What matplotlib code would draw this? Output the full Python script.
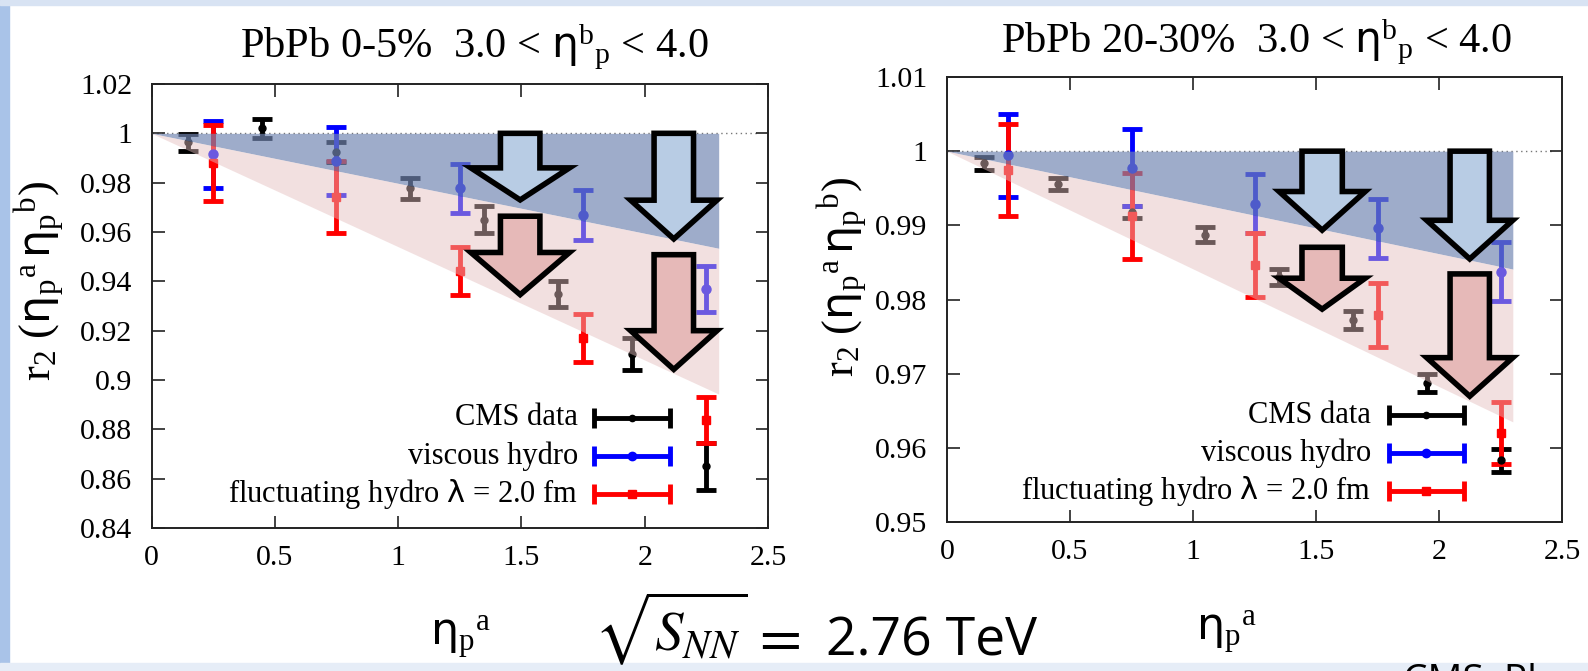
import matplotlib
matplotlib.use("Agg")
import matplotlib.pyplot as plt
from matplotlib.patches import Polygon, Rectangle

plt.rcParams['font.family'] = ['Liberation Serif', 'DejaVu Sans']
plt.rcParams['mathtext.fontset'] = 'custom'
plt.rcParams['mathtext.rm'] = 'Liberation Serif'
plt.rcParams['mathtext.it'] = 'Liberation Serif:italic'
plt.rcParams['mathtext.sf'] = 'DejaVu Sans'

# ---------------- data ----------------
cms_x = [0.15, 0.45, 0.75, 1.05, 1.35, 1.65, 1.95, 2.25]
hydro_x = [0.25, 0.75, 1.25, 1.75, 2.25]

# PbPb 0-5%
cms_0_5 = [0.9963, 1.0020, 0.9924, 0.9777, 0.9650, 0.9350, 0.9105, 0.8650]
cms_0_5_err = [0.0035, 0.0037, 0.0039, 0.0043, 0.0056, 0.0053, 0.0065, 0.0095]
visc_0_5 = [0.9915, 0.9889, 0.9777, 0.9669, 0.9370]
visc_0_5_err = [0.0137, 0.0137, 0.0100, 0.0100, 0.0094]
fluct_0_5 = [0.9879, 0.9742, 0.9441, 0.9170, 0.8838]
fluct_0_5_err = [0.0154, 0.0145, 0.0098, 0.0097, 0.0092]

# PbPb 20-30%
cms_20_30 = [0.99838, 0.99552, 0.99175, 0.98875, 0.98307, 0.97720, 0.96878, 0.95830]
cms_20_30_err = [0.00087, 0.0008, 0.0008, 0.0010, 0.0011, 0.0012, 0.0012, 0.0016]
visc_20_30 = [0.99943, 0.99774, 0.99292, 0.98958, 0.98374]
visc_20_30_err = [0.0056, 0.0052, 0.0040, 0.0040, 0.0040]
fluct_20_30 = [0.99748, 0.99123, 0.98470, 0.97795, 0.96204]
fluct_20_30_err = [0.0062, 0.0058, 0.0043, 0.0043, 0.0042]

# shaded bands: straight lines from (0, 1) to (band_x_end, value)
band_x_end = 2.3
band_blue_end = [0.9534, 0.9841]
band_pink_end = [0.8943, 0.9635]

titles = [r'PbPb 0-5%  3.0 < $\mathsf{η}^{\mathrm{b}}{}_{\mathrm{p}}$ < 4.0',
          r'PbPb 20-30%  3.0 < $\mathsf{η}^{\mathrm{b}}{}_{\mathrm{p}}$ < 4.0']
ylims = [(0.84, 1.02), (0.95, 1.01)]
yticks = [[0.84, 0.86, 0.88, 0.90, 0.92, 0.94, 0.96, 0.98, 1.00, 1.02],
          [0.95, 0.96, 0.97, 0.98, 0.99, 1.00, 1.01]]
yticklabels = [['0.84', '0.86', '0.88', '0.9', '0.92', '0.94', '0.96', '0.98', '1', '1.02'],
               ['0.95', '0.96', '0.97', '0.98', '0.99', '1', '1.01']]
xticks = [0, 0.5, 1, 1.5, 2, 2.5]
xticklabels = ['0', '0.5', '1', '1.5', '2', '2.5']
legend_labels = ['CMS data', 'viscous hydro', r'fluctuating hydro $\mathsf{λ}$ = 2.0 fm']

# slide arrows (annotations): x centre, shaft half-width, head half-width, y top, y head base, y tip
arrows = [
    [  # left panel
        ('blue', 1.495, 0.080, 0.200, 1.0000, 0.9860, 0.9730),
        ('pink', 1.495, 0.080, 0.200, 0.9664, 0.9517, 0.9346),
        ('blue', 2.118, 0.080, 0.175, 1.0000, 0.9729, 0.9572),
        ('pink', 2.118, 0.080, 0.175, 0.9508, 0.9200, 0.9043),
    ],
    [  # right panel
        ('blue', 1.525, 0.082, 0.175, 1.0000, 0.99456, 0.98935),
        ('pink', 1.525, 0.082, 0.175, 0.98704, 0.98287, 0.97870),
        ('blue', 2.125, 0.080, 0.175, 1.0000, 0.99068, 0.98547),
        ('pink', 2.125, 0.080, 0.175, 0.98345, 0.97216, 0.96696),
    ],
]

W, H = 1588, 671
fig = plt.figure(figsize=(W / 100, H / 100), dpi=100)
fig.patch.set_facecolor('white')

# slide decoration strips
fig.add_artist(Rectangle((0, 0), 9 / W, 1, transform=fig.transFigure,
                         color='#a9c3e8', zorder=0))
fig.add_artist(Rectangle((0, 1 - 5 / H), 1, 5 / H, transform=fig.transFigure,
                         color='#d8e3f3', zorder=0))
fig.add_artist(Rectangle((0, 0), 1, 8 / H, transform=fig.transFigure,
                         color='#e6edf7', zorder=0))

ax_boxes = [(151.5, 84, 768, 528), (947, 77, 1562, 522)]

def fbox(b):
    x0, y0, x1, y1 = b
    return [x0 / W, 1 - y1 / H, (x1 - x0) / W, (y1 - y0) / H]

panels = [
    (cms_0_5, cms_0_5_err, visc_0_5, visc_0_5_err, fluct_0_5, fluct_0_5_err),
    (cms_20_30, cms_20_30_err, visc_20_30, visc_20_30_err, fluct_20_30, fluct_20_30_err),
]

blue_shade = (114 / 255, 134 / 255, 178 / 255)
pink_shade = (228 / 255, 191 / 255, 191 / 255)
arrow_fc = {'blue': '#b8cce4', 'pink': '#e6b9b8'}

legend_pos = [(0.692, 0.718, 0.841, [0.248, 0.162, 0.076]),
              (0.690, 0.718, 0.841, [0.240, 0.155, 0.070])]

for i, (cms, cms_e, visc, visc_e, fl, fl_e) in enumerate(panels):
    ax = fig.add_axes(fbox(ax_boxes[i]))
    ax.set_xlim(0, 2.5)
    ax.set_ylim(*ylims[i])
    ax.set_xticks(xticks)
    ax.set_xticklabels(xticklabels)
    ax.set_yticks(yticks[i])
    ax.set_yticklabels(yticklabels[i])
    ax.tick_params(direction='in', length=9, width=1.2, top=True, right=True,
                   labelsize=21.5, colors='#222222', labelcolor='black')
    ax.tick_params(axis='x', pad=12)
    ax.tick_params(axis='y', pad=14)
    for s in ax.spines.values():
        s.set_linewidth(1.4)
        s.set_color('#222222')

    ax.axhline(1.0, xmin=0, xmax=0.985, color='#777777', ls=(0, (1, 2.5)), lw=1.0, zorder=1)

    ekw = dict(elinewidth=3.5, capsize=7.5, capthick=3.5, zorder=2)
    ax.errorbar(cms_x, cms, yerr=cms_e, fmt='o', color='black', ms=5, **ekw)
    ax.errorbar(hydro_x, visc, yerr=visc_e, fmt='o', color='#0000ff', ms=6.5, **ekw)
    ax.errorbar(hydro_x, fl, yerr=fl_e, fmt='s', color='#ff0000', ms=6, **ekw)

    ax.fill_between([0, band_x_end], [1, 1], [1, band_blue_end[i]],
                    color=blue_shade, alpha=0.686, lw=0, zorder=3)
    ax.fill_between([0, band_x_end], [1, band_blue_end[i]], [1, band_pink_end[i]],
                    color=pink_shade, alpha=0.47, lw=0, zorder=3)

    for (kind, xc, sw, hw, yt, yh, ytip) in arrows[i]:
        pts = [(xc - sw, yt), (xc + sw, yt), (xc + sw, yh), (xc + hw, yh),
               (xc, ytip), (xc - hw, yh), (xc - sw, yh)]
        ax.add_patch(Polygon(pts, closed=True, facecolor=arrow_fc[kind],
                             edgecolor='black', lw=4, joinstyle='miter',
                             zorder=6, clip_on=False))

    # legend (gnuplot style)
    xt, xs0, xs1, rows = legend_pos[i]
    colors = ['black', '#0000ff', '#ff0000']
    markers = ['o', 'o', 's']
    msz = [4.5, 6, 6]
    for lab, yr, c, m, ms in zip(legend_labels, rows, colors, markers, msz):
        ax.text(xt, yr, lab, transform=ax.transAxes, ha='right', va='center',
                fontsize=22, zorder=7)
        ax.plot([xs0, xs1], [yr, yr], transform=ax.transAxes, color=c, lw=3.5,
                zorder=7, solid_capstyle='butt')
        dy = 0.022
        for xx in (xs0, xs1):
            ax.plot([xx, xx], [yr - dy, yr + dy], transform=ax.transAxes,
                    color=c, lw=3.5, zorder=7, solid_capstyle='butt')
        ax.plot([(xs0 + xs1) / 2], [yr], marker=m, ms=ms, color=c,
                transform=ax.transAxes, zorder=7)

titles_pos = [(474, 57), (1256, 52)]
for t, (tx, ty) in zip(titles, titles_pos):
    fig.text(tx / W, 1 - ty / H, t, ha='center', va='baseline', fontsize=30.5)

ylabel = r'r$_2$ ($\mathsf{η}_{\mathrm{p}}{}^{\mathrm{a}}\,\mathsf{η}_{\mathrm{p}}{}^{\mathrm{b}}$)'
for (lx, ly) in [(40, 281), (843, 277)]:
    fig.text(lx / W, 1 - ly / H, ylabel, rotation=90, ha='center', va='center', fontsize=32)

xlabel = r'$\mathsf{η}_{\mathrm{p}}{}^{\mathrm{a}}$'
for (lx, ly) in [(460, 645), (1226, 640)]:
    fig.text(lx / W, 1 - ly / H, xlabel, ha='center', va='baseline', fontsize=32)

# energy
fig.text(594 / W, 1 - 650 / H, r'$\sqrt{S_{NN}}$', math_fontfamily='stix',
         ha='left', va='baseline', fontsize=41)
fig.text(751 / W, 1 - 654 / H, r'$=$', math_fontfamily='stix',
         ha='left', va='baseline', fontsize=44)
fig.text(826 / W, 1 - 656 / H, '2.76 TeV', family='Open Sans',
         ha='left', va='baseline', fontsize=38.5)

# reference note at the bottom edge (cut off by the slide, as in the original)
fig.text(1403 / W, 1 - 663 / H, 'CMS, Phys. Rev. C 92, 034911', family='Open Sans',
         ha='left', va='top', fontsize=28)

fig.savefig('out.png', dpi=100)
